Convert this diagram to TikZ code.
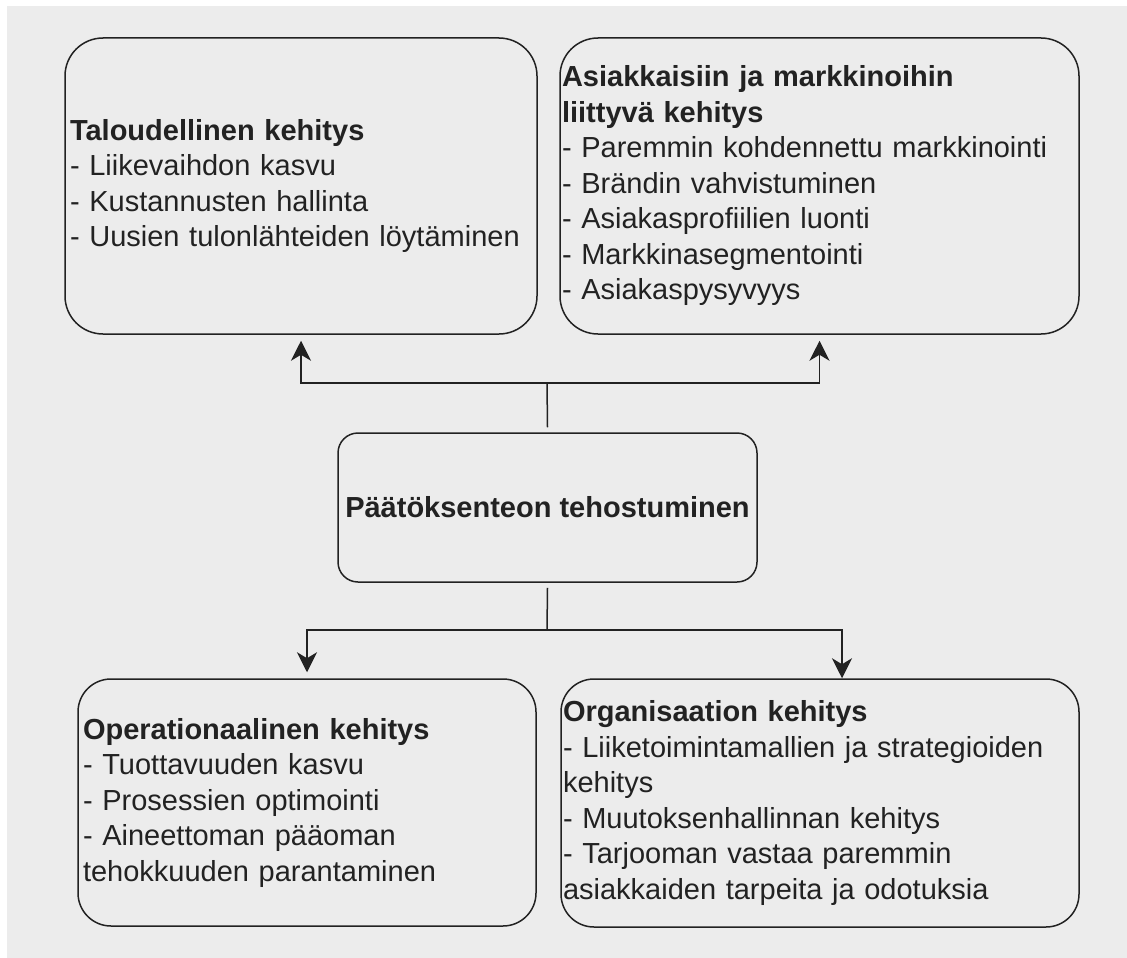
\documentclass[tikz,border=0pt]{standalone}
\usepackage{fontspec}
\setmainfont{Liberation Sans}
\usetikzlibrary{arrows.meta, positioning, calc}

\definecolor{bggray}{RGB}{236,236,236}
\definecolor{inkgray}{RGB}{34,34,34}

\tikzset{
	blockbox/.style={draw=inkgray, line width=1.5pt, text=inkgray, align=left, inner ysep=0pt,
		font=\fontsize{29}{35.5}\selectfont},
	link/.style={draw=inkgray, line width=1.5pt},
	arr/.style={link, -{Stealth[length=20pt, width=20pt, inset=6pt]}}
}

\begin{document}
\begin{tikzpicture}[x=1pt, y=-1pt]
	\useasboundingbox (0,0) rectangle (1127,958);
	\fill[bggray] (7,6) rectangle (1127,958);
	
	% top row
	\node[blockbox, rounded corners=38pt, minimum height=296pt, inner xsep=5pt, text width=462pt] (fin) at (301,186)
		{\textbf{Taloudellinen kehitys}\\- Liikevaihdon kasvu\\- Kustannusten hallinta\\- Uusien tulonlähteiden löytäminen};
	\node[blockbox, rounded corners=38pt, minimum height=296pt, inner xsep=2pt, text width=515pt] (mark) at (819.5,186)
		{\textbf{Asiakkaisiin ja markkinoihin}\\\textbf{liittyvä kehitys}\\- Paremmin kohdennettu markkinointi\\- Brändin vahvistuminen\\- Asiakasprofiilien luonti\\- Markkinasegmentointi\\- Asiakaspysyvyys};
	
	% middle
	\node[blockbox, rounded corners=20pt, align=center, minimum width=419pt, minimum height=149pt] (mid) at (547.5,507.5)
		{\textbf{Päätöksenteon tehostuminen}};
	
	% bottom row
	\node[blockbox, rounded corners=33pt, minimum height=247pt, inner xsep=5pt, text width=448pt] (oper) at (307,802.5)
		{\textbf{Operationaalinen kehitys}\\- Tuottavuuden kasvu\\- Prosessien optimointi\\- Aineettoman pääoman\\tehokkuuden parantaminen};
	\node[blockbox, rounded corners=33pt, minimum height=248pt, inner xsep=2pt, text width=514pt] (org) at (820,803)
		{\textbf{Organisaation kehitys}\\- Liiketoimintamallien ja strategioiden\\kehitys\\- Muutoksenhallinnan kehitys\\- Tarjooman vastaa paremmin\\asiakkaiden tarpeita ja odotuksia};
	
	% connectors
	\coordinate (upj) at (547,383);
	\coordinate (dnj) at (547,630);
	\draw[link] ([yshift=5pt]mid.north) -- (upj);
	\draw[arr] (upj) -| ([yshift=-6pt]fin.south);
	\draw[arr] (upj) -| ([yshift=-6pt]mark.south);
	\draw[link] ([yshift=-5pt]mid.south) -- (dnj);
	\draw[arr] (dnj) -| ([yshift=6pt]oper.north);
	\draw[arr] (dnj) -| ([xshift=22pt]org.north);
\end{tikzpicture}
\end{document}
